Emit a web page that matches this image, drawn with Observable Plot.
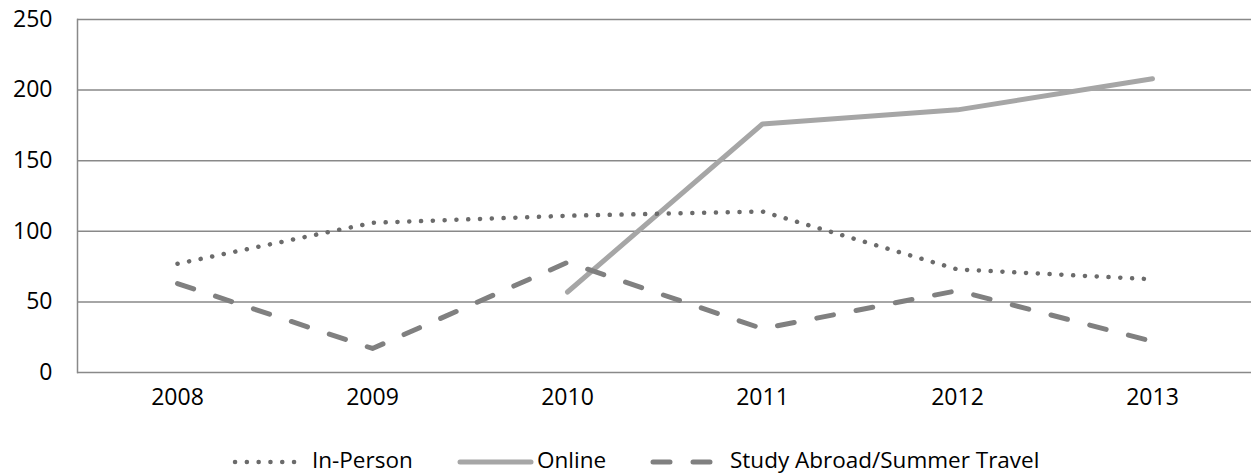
<!DOCTYPE html>
<html><head><meta charset="utf-8">
<script src="https://cdn.jsdelivr.net/npm/d3@7"></script>
<script src="https://cdn.jsdelivr.net/npm/@observablehq/plot@0.6"></script>
<style>
body{margin:0;background:#fff;font-family:"Open Sans",sans-serif;}
#wrap{position:relative;width:1251px;height:476px;overflow:hidden;}
#chart{position:absolute;left:0;top:0;}
.item{position:absolute;top:445px;height:30px;line-height:30px;display:flex;align-items:center;font-size:22.5px;color:#000;white-space:nowrap;}
.item svg{display:block;}
</style></head><body>
<div id="wrap"><div id="chart"></div></div>
<script>
const years = ["2008","2009","2010","2011","2012","2013"];
const inPerson = [77,106,111,114,73,66];
const online = [null,null,57,176,186,208];
const studyAbroad = [63,17,78,31,58,22];
const seriesNames = ["In-Person","Online","Study Abroad/Summer Travel"];
const yTicks = [0,50,100,150,200,250];

const styles = {
  "In-Person": {stroke:"#6b6b6b", strokeWidth:4.5, strokeDasharray:"0.1 11.7", strokeLinecap:"round"},
  "Online": {stroke:"#a6a6a6", strokeWidth:5, strokeDasharray:null, strokeLinecap:"round"},
  "Study Abroad/Summer Travel": {stroke:"#808080", strokeWidth:5, strokeDasharray:"17 23", strokeLinecap:"round"}
};
const valuesBySeries = {"In-Person": inPerson, "Online": online, "Study Abroad/Summer Travel": studyAbroad};
const rows = [];
for (const s of seriesNames) valuesBySeries[s].forEach((v,i)=>{ if (v!=null) rows.push({series:s, year:years[i], value:v}); });
const drawOrder = ["Online","Study Abroad/Summer Travel","In-Person"];

const plot = Plot.plot({
  width:1251, height:420,
  marginLeft:77, marginRight:0, marginTop:19, marginBottom:48,
  style:{fontFamily:"Open Sans, sans-serif", fontSize:"23px", color:"#000", background:"#fff"},
  x:{type:"point", domain:years, padding:0.5, axis:null, label:null},
  y:{domain:[0,250], axis:null, label:null},
  marks:[
    Plot.ruleY(yTicks, {stroke:"#898989", strokeWidth:1.5, strokeOpacity:1}),
    Plot.frame({anchor:"left", stroke:"#898989", strokeWidth:1.5, strokeOpacity:1}),
    Plot.axisX({tickSize:0, tickPadding:16, fontSize:23, label:null}),
    Plot.axisY({ticks:yTicks, tickSize:0, tickPadding:25, fontSize:23, label:null}),
    ...drawOrder.map(s => Plot.line(rows.filter(d=>d.series===s), {x:"year", y:"value", ...styles[s], strokeLinejoin:"round"}))
  ]
});
document.getElementById("chart").appendChild(plot);

// legend below the SVG
const legendItems = [
  {name:"In-Person", left:232, sw:69, gap:11},
  {name:"Online", left:457, sw:77, gap:3},
  {name:"Study Abroad/Summer Travel", left:650, sw:68, gap:12}
];
const wrap = document.getElementById("wrap");
for (const it of legendItems) {
  const st = styles[it.name];
  const div = document.createElement("div");
  div.className = "item";
  div.style.left = it.left + "px";
  const ns = "http://www.w3.org/2000/svg";
  const svg = document.createElementNS(ns,"svg");
  svg.setAttribute("width", it.sw); svg.setAttribute("height", 30);
  const ln = document.createElementNS(ns,"line");
  ln.setAttribute("x1", 3); ln.setAttribute("x2", it.sw-3);
  ln.setAttribute("y1", 17); ln.setAttribute("y2", 17);
  ln.setAttribute("stroke", st.stroke); ln.setAttribute("stroke-width", st.strokeWidth);
  ln.setAttribute("stroke-linecap", st.strokeLinecap);
  if (st.strokeDasharray) ln.setAttribute("stroke-dasharray", st.strokeDasharray);
  svg.appendChild(ln);
  div.appendChild(svg);
  const span = document.createElement("span");
  span.textContent = it.name;
  span.style.marginLeft = it.gap + "px";
  div.appendChild(span);
  wrap.appendChild(div);
}
</script>
</body></html>
